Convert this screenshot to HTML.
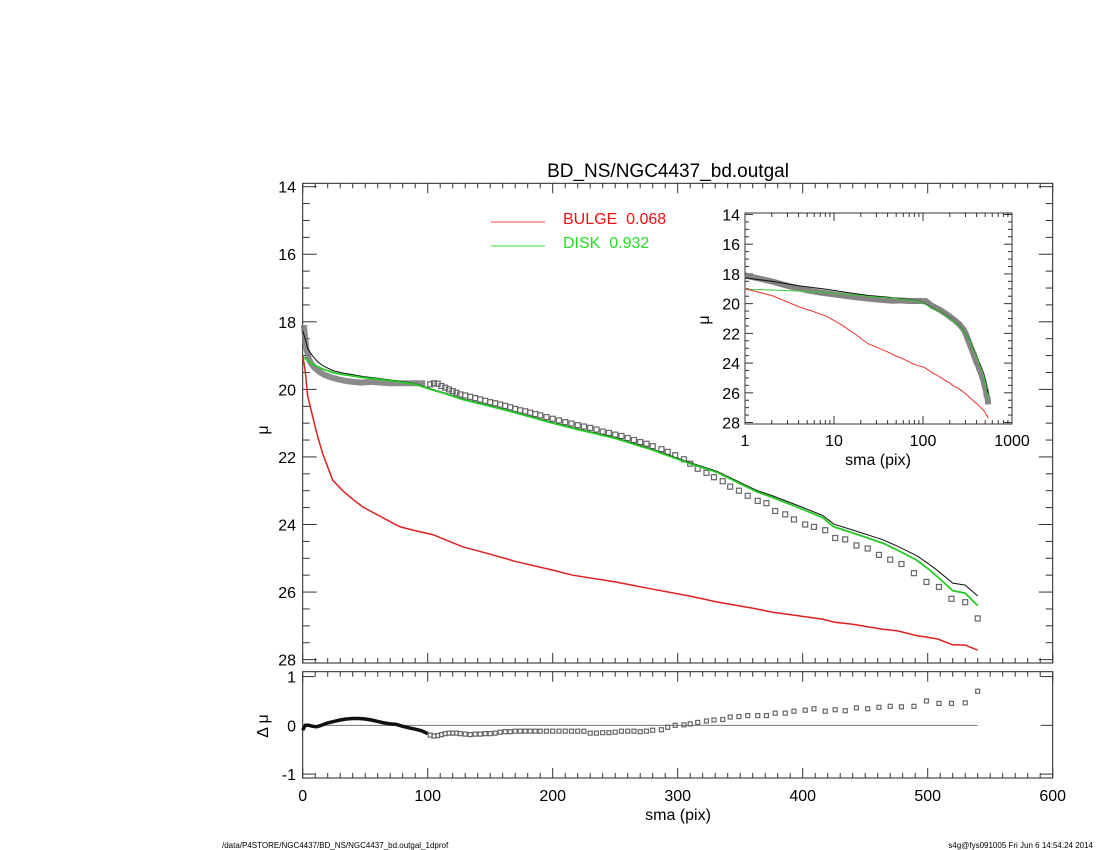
<!DOCTYPE html>
<html><head><meta charset="utf-8"><style>
html,body{margin:0;padding:0;background:#fff;}
svg{display:block;font-family:"Liberation Sans",sans-serif;}
</style></head><body>
<svg id="chart" width="1100" height="850" viewBox="0 0 1100 850">
<text x="668" y="177" font-size="19" text-anchor="middle">BD_NS/NGC4437_bd.outgal</text>
<g>
<line x1="491" y1="222" x2="545" y2="222" stroke="#ff4040" stroke-width="1"/>
<text x="563" y="224" font-size="16" fill="#ee1111">BULGE&#160;&#160;0.068</text>
<line x1="491" y1="246" x2="545" y2="246" stroke="#33dd33" stroke-width="1"/>
<text x="563" y="248" font-size="16" fill="#22dd22">DISK&#160;&#160;0.932</text>
</g>
<text x="1093" y="848" font-size="8" text-anchor="end">s4g@fys091005  Fri Jun  6 14:54:24 2014</text>
<text x="222" y="848" font-size="8">/data/P4STORE/NGC4437/BD_NS/NGC4437_bd.outgal_1dprof</text>
<g id="layer"></g>
</svg>
<script>
// ---- data ----
const modelSma = [1,2,4,8,12,16,24,32,40,48,60,78,90,104,116,128,150,171,200,216,250,278,310,331,363,376,400,416,425,440,464,476,491,500,508,520,530,540];
const bulgeMu = [19.0,19.45,20.2,20.81,21.4,21.9,22.69,23.0,23.25,23.48,23.72,24.07,24.18,24.3,24.48,24.66,24.88,25.1,25.35,25.5,25.7,25.9,26.12,26.29,26.5,26.6,26.72,26.8,26.89,26.95,27.1,27.15,27.29,27.34,27.39,27.56,27.57,27.72];
const diskMu = [19.04,19.08,19.15,19.25,19.33,19.4,19.5,19.56,19.6,19.65,19.7,19.78,19.85,20.02,20.15,20.3,20.5,20.7,21.0,21.15,21.45,21.77,22.2,22.45,23.03,23.2,23.55,23.8,24.07,24.25,24.55,24.76,25.05,25.3,25.55,25.96,26.03,26.4];
const innerSma = [1,2,3,5,7,10,14,18,23,28,33,40,47,55,62,70,78,85,92,98];
const innerMu = [18.1,18.5,18.8,19.1,19.25,19.38,19.5,19.58,19.65,19.7,19.74,19.78,19.8,19.78,19.8,19.82,19.82,19.82,19.82,19.82];
const dataSma = [102,105,108,111,114,117,120,123,126,130,134,138,142,146,150,154,158,162,166,170,174,178,182,186,190,195,200,205,210,215,220,225,230,235,240,245,250,255,260,265,270,275,280,287,292,298,305,310,316,323,329,336,342,349,356,364,371,378,386,393,402,409,418,426,434,443,452,461,470,479,489,499,509,519,530,540];
const dataMu = [19.85,19.82,19.83,19.9,19.95,20.0,20.05,20.1,20.15,20.18,20.22,20.26,20.3,20.34,20.38,20.41,20.45,20.49,20.53,20.58,20.62,20.65,20.69,20.73,20.77,20.82,20.87,20.92,20.97,21.01,21.06,21.1,21.14,21.19,21.25,21.29,21.34,21.38,21.44,21.5,21.56,21.61,21.68,21.77,21.85,21.95,22.07,22.2,22.35,22.47,22.6,22.72,22.88,23.0,23.15,23.3,23.37,23.6,23.7,23.85,24.0,24.07,24.17,24.4,24.44,24.62,24.71,24.9,25.04,25.17,25.44,25.7,25.85,26.2,26.3,26.78];
const dataRes = [-0.2,-0.22,-0.21,-0.19,-0.17,-0.16,-0.16,-0.16,-0.17,-0.18,-0.19,-0.18,-0.18,-0.17,-0.17,-0.16,-0.14,-0.13,-0.13,-0.12,-0.12,-0.12,-0.12,-0.12,-0.12,-0.12,-0.12,-0.12,-0.12,-0.12,-0.12,-0.12,-0.16,-0.16,-0.15,-0.15,-0.14,-0.12,-0.12,-0.12,-0.13,-0.12,-0.1,-0.09,-0.04,0.0,0.01,0.03,0.06,0.09,0.11,0.12,0.17,0.18,0.2,0.2,0.2,0.25,0.25,0.29,0.31,0.34,0.29,0.32,0.3,0.36,0.34,0.37,0.39,0.38,0.39,0.5,0.45,0.45,0.46,0.7];
const innerResSma = [0,2,5,8,11,15,20,25,30,35,40,45,50,55,60,65,70,75,80,85,90,95,100];
const innerRes = [-0.1,0,0.0,-0.02,-0.03,0.0,0.05,0.08,0.11,0.13,0.14,0.14,0.13,0.11,0.08,0.05,0.03,0.02,-0.02,-0.05,-0.08,-0.11,-0.17];
const xTicks = [0,100,200,300,400,500,600];
const yTicks = [14,16,18,20,22,24,26,28];
const resTicks = [1,0,-1];
const insetXTicks = [1,10,100,1000];

// ---- helpers ----
const NS = "http://www.w3.org/2000/svg";
const layer = document.getElementById('layer');
function mk(tag, attrs, parent){ const e=document.createElementNS(NS,tag); for(const k in attrs) e.setAttribute(k,attrs[k]); (parent||layer).appendChild(e); return e; }
// total model
const totalMu = bulgeMu.map((b,i)=> -2.5*Math.log10(Math.pow(10,-0.4*b)+Math.pow(10,-0.4*diskMu[i])));

// main axes
const M = {l:302.7, r:1052.7, t:183.3, b:663, x0:0, x1:600, y0:13.9, y1:28.1};
const xM = v => M.l + (v-M.x0)/(M.x1-M.x0)*(M.r-M.l);
const yM = v => M.t + (v-M.y0)/(M.y1-M.y0)*(M.b-M.t);
const R = {t:671.7, b:778, y0:1.1, y1:-1.08};
const yR = v => R.t + (R.y0-v)/(R.y0-R.y1)*(R.b-R.t);
const I = {l:745, r:1012, t:213, b:424, y0:13.9, y1:28.1};
const xI = v => I.l + Math.log10(v)/3*(I.r-I.l);
const yI = v => I.t + (v-I.y0)/(I.y1-I.y0)*(I.b-I.t);

function pathOf(xs, ys, fx, fy){ return xs.map((x,i)=>(i?'L':'M')+fx(x).toFixed(1)+','+fy(ys[i]).toFixed(1)).join(' '); }

// frames
let f = mk('rect',{x:M.l,y:M.t,width:M.r-M.l,height:M.b-M.t,fill:'none',stroke:'#222','stroke-width':1});


f = mk('rect',{x:M.l,y:R.t,width:M.r-M.l,height:R.b-R.t,fill:'none',stroke:'#222','stroke-width':1});



// main x ticks (shared by both panels)
const gx = mk('g',{});


for(let v=0; v<=600; v+=10){
  const major = v%100===0; const L = major?10:5; const x=xM(v);
  mk('line',{x1:x,y1:M.b,x2:x,y2:M.b-L,stroke:'#333'},gx);
  mk('line',{x1:x,y1:M.t,x2:x,y2:M.t+L,stroke:'#333'},gx);
  mk('line',{x1:x,y1:R.b,x2:x,y2:R.b-L,stroke:'#333'},gx);
  mk('line',{x1:x,y1:R.t,x2:x,y2:R.t+L,stroke:'#333'},gx);
}
xTicks.forEach(v=>{ const t=mk('text',{x:xM(v),y:801,'font-size':16,'text-anchor':'middle'},gx); t.textContent=v;
  
   });
let t = mk('text',{x:678,y:820,'font-size':16,'text-anchor':'middle'});
t.textContent='sma (pix)';



// main y ticks
const gy = mk('g',{});


for(let v=14; v<=28.001; v+=0.5){
  const major = Math.abs(v-Math.round(v/2)*2)<1e-6; const L=major?14:7; const y=yM(v);
  mk('line',{x1:M.l,y1:y,x2:M.l+L,y2:y,stroke:'#333'},gy);
  mk('line',{x1:M.r,y1:y,x2:M.r-L,y2:y,stroke:'#333'},gy);
}
yTicks.forEach(v=>{ const t=mk('text',{x:296,y:yM(v)+6,'font-size':16,'text-anchor':'end'},gy); t.textContent=v;
  
   });
t = mk('text',{x:0,y:0,'font-size':16,'text-anchor':'middle',transform:'translate(268,430) rotate(-90)'});
t.textContent='μ';



// residual y ticks
resTicks.forEach(v=>{ const y=yR(v);
  mk('line',{x1:M.l,y1:y,x2:M.l+12,y2:y,stroke:'#333'});
  mk('line',{x1:M.r,y1:y,x2:M.r-12,y2:y,stroke:'#333'});
  const t=mk('text',{x:296,y:y+6,'font-size':16,'text-anchor':'end'}); t.textContent=v;
  
   });
t = mk('text',{x:0,y:0,'font-size':16,'text-anchor':'middle',transform:'translate(268,726) rotate(-90)'});
t.textContent='Δ μ';



// main series
const ms = modelSma.map((s,i)=>i===0?0:s);
let p = mk('path',{d:pathOf(innerSma,innerMu,xM,yM),fill:'none',stroke:'#777','stroke-width':6,'stroke-linejoin':'round','stroke-opacity':0.85});


dataSma.forEach((s,i)=>{ const r=mk('rect',{x:xM(s)-2.5,y:yM(dataMu[i])-2.5,width:5,height:5,fill:'none',stroke:'#666','stroke-width':1.2});
  
   });
p = mk('path',{d:pathOf(ms,totalMu,xM,yM),fill:'none',stroke:'#111','stroke-width':1});


p = mk('path',{d:pathOf(ms,diskMu,xM,yM),fill:'none',stroke:'#22cc22','stroke-width':1.8});


p = mk('path',{d:pathOf(ms,bulgeMu,xM,yM),fill:'none',stroke:'#e02020','stroke-width':1.5});



// residual series
p = mk('line',{x1:xM(0),y1:yR(0),x2:xM(540),y2:yR(0),stroke:'#777','stroke-width':1});


p = mk('path',{d:pathOf(innerResSma,innerRes,xM,yR),fill:'none',stroke:'#111','stroke-width':3.5,'stroke-linejoin':'round'});


dataSma.forEach((s,i)=>{ const r=mk('rect',{x:xM(s)-2,y:yR(dataRes[i])-2,width:4,height:4,fill:'none',stroke:'#666','stroke-width':1.2});
  
   });

// inset
const gi = mk('g',{});


mk('rect',{x:I.l,y:I.t,width:I.r-I.l,height:I.b-I.t,fill:'#fff',stroke:'#333','stroke-width':1},gi);
for(let d=1; d<1000; d*=10){ for(let k=1;k<10;k++){ const v=d*k; const x=xI(v); const L=k===1?8:4;
  mk('line',{x1:x,y1:I.b,x2:x,y2:I.b-L,stroke:'#333'},gi); mk('line',{x1:x,y1:I.t,x2:x,y2:I.t+L,stroke:'#333'},gi);} }
for(let v=14; v<=28.001; v+=0.5){ const major=Math.abs(v-Math.round(v/2)*2)<1e-6; const L=major?8:4; const y=yI(v);
  mk('line',{x1:I.l,y1:y,x2:I.l+L,y2:y,stroke:'#333'},gi); mk('line',{x1:I.r,y1:y,x2:I.r-L,y2:y,stroke:'#333'},gi); }
yTicks.forEach(v=>{ const t=mk('text',{x:740,y:yI(v)+6,'font-size':16,'text-anchor':'end'},gi); t.textContent=v;
  
   });
insetXTicks.forEach(v=>{ const t=mk('text',{x:xI(v),y:446,'font-size':16,'text-anchor':'middle'},gi); t.textContent=v;
  
   });
t = mk('text',{x:878,y:465,'font-size':16,'text-anchor':'middle'},gi);
t.textContent='sma (pix)';


t = mk('text',{x:0,y:0,'font-size':16,'text-anchor':'middle',transform:'translate(709,320) rotate(-90)'},gi);
t.textContent='μ';


const allSma = innerSma.concat(dataSma), allMu = innerMu.concat(dataMu);
p = mk('path',{d:pathOf(allSma,allMu,xI,yI),fill:'none',stroke:'#777','stroke-width':6,'stroke-linejoin':'round','stroke-opacity':0.9},gi);


p = mk('path',{d:pathOf(modelSma,totalMu,xI,yI),fill:'none',stroke:'#111','stroke-width':1},gi);


p = mk('path',{d:pathOf(modelSma,diskMu,xI,yI),fill:'none',stroke:'#33cc33','stroke-width':1},gi);


p = mk('path',{d:pathOf(modelSma,bulgeMu,xI,yI),fill:'none',stroke:'#ee3333','stroke-width':1},gi);


</script>
</body></html>
